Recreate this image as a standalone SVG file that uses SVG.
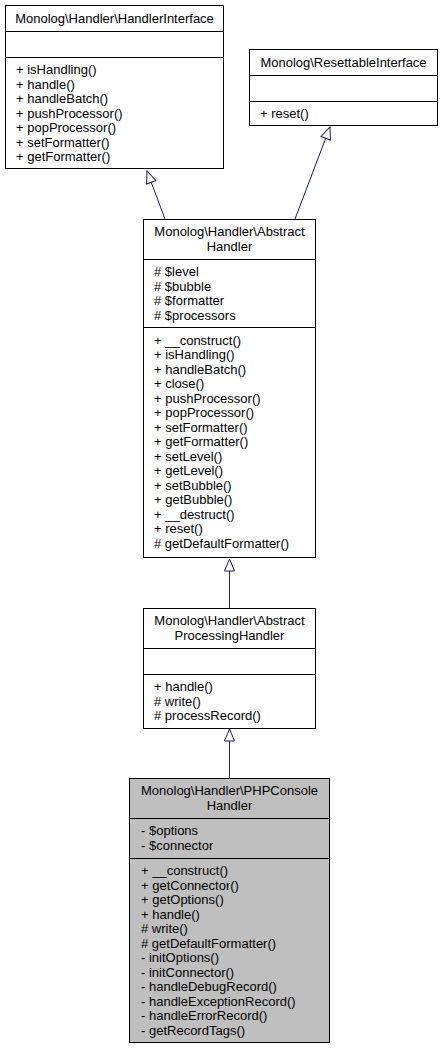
<svg xmlns="http://www.w3.org/2000/svg" width="445" height="1051" viewBox="0 0 445 1051">
<style>
text{font-family:"Liberation Sans",Arial,Helvetica,sans-serif;font-size:13px;fill:#000}
.t{text-anchor:middle}
.box{fill:#fff;stroke:#000;stroke-width:1}
.sel{fill:#bfbfbf;stroke:#000;stroke-width:1}
.sep{stroke:#000;stroke-width:1}
.edge{stroke:#191970;stroke-width:1;fill:none;marker-end:url(#inh)}
</style>
<defs>
<marker id="inh" markerUnits="userSpaceOnUse" viewBox="-1 -1 14 12" markerWidth="14" markerHeight="12" refX="12" refY="5" orient="auto">
<path d="M12,5 L0,0 L0,10 Z" fill="#fff" stroke="#191970" stroke-width="1"/>
</marker>
</defs>
<rect width="445" height="1051" fill="#fff"/>
<g id="connectors">
<line class="edge" x1="165" y1="219" x2="147" y2="171"/>
<line class="edge" x1="295" y1="219" x2="330" y2="127"/>
<line class="edge" x1="229.5" y1="608" x2="229.5" y2="559"/>
<line class="edge" x1="229.5" y1="778" x2="229.5" y2="729"/>
</g>
<g id="HandlerInterface">
<rect class="box" x="5.5" y="5.5" width="218" height="163"/>
<line class="sep" x1="5.5" y1="31.5" x2="223.5" y2="31.5"/>
<line class="sep" x1="5.5" y1="57.5" x2="223.5" y2="57.5"/>
<text class="t" x="114.5" y="22.5">Monolog\Handler\HandlerInterface</text>
<text x="16" y="74">+ isHandling()</text>
<text x="16" y="88.5">+ handle()</text>
<text x="16" y="103">+ handleBatch()</text>
<text x="16" y="117.5">+ pushProcessor()</text>
<text x="16" y="132">+ popProcessor()</text>
<text x="16" y="146.5">+ setFormatter()</text>
<text x="16" y="161">+ getFormatter()</text>
</g>
<g id="ResettableInterface">
<rect class="box" x="249.5" y="49.5" width="188" height="76"/>
<line class="sep" x1="249.5" y1="75.5" x2="437.5" y2="75.5"/>
<line class="sep" x1="249.5" y1="101.5" x2="437.5" y2="101.5"/>
<text class="t" x="343.5" y="66.5">Monolog\ResettableInterface</text>
<text x="260" y="118">+ reset()</text>
</g>
<g id="AbstractHandler">
<rect class="box" x="143.5" y="219.5" width="172" height="338"/>
<line class="sep" x1="143.5" y1="259.5" x2="315.5" y2="259.5"/>
<line class="sep" x1="143.5" y1="327.5" x2="315.5" y2="327.5"/>
<text class="t" x="229.5" y="236">Monolog\Handler\Abstract</text>
<text class="t" x="229.5" y="250.5">Handler</text>
<text x="154" y="276"># $level</text>
<text x="154" y="290.5"># $bubble</text>
<text x="154" y="305"># $formatter</text>
<text x="154" y="319.5"># $processors</text>
<text x="154" y="344.5">+ __construct()</text>
<text x="154" y="359">+ isHandling()</text>
<text x="154" y="373.5">+ handleBatch()</text>
<text x="154" y="388">+ close()</text>
<text x="154" y="402.5">+ pushProcessor()</text>
<text x="154" y="417">+ popProcessor()</text>
<text x="154" y="431.5">+ setFormatter()</text>
<text x="154" y="446">+ getFormatter()</text>
<text x="154" y="460.5">+ setLevel()</text>
<text x="154" y="475">+ getLevel()</text>
<text x="154" y="489.5">+ setBubble()</text>
<text x="154" y="504">+ getBubble()</text>
<text x="154" y="518.5">+ __destruct()</text>
<text x="154" y="533">+ reset()</text>
<text x="154" y="547.5"># getDefaultFormatter()</text>
</g>
<g id="AbstractProcessingHandler">
<rect class="box" x="143.5" y="608.5" width="172" height="120"/>
<line class="sep" x1="143.5" y1="648.5" x2="315.5" y2="648.5"/>
<line class="sep" x1="143.5" y1="674.5" x2="315.5" y2="674.5"/>
<text class="t" x="229.5" y="625">Monolog\Handler\Abstract</text>
<text class="t" x="229.5" y="639.5">ProcessingHandler</text>
<text x="154" y="691">+ handle()</text>
<text x="154" y="705.5"># write()</text>
<text x="154" y="720"># processRecord()</text>
</g>
<g id="PHPConsoleHandler">
<rect class="sel" x="129.5" y="778.5" width="200" height="264"/>
<line class="sep" x1="129.5" y1="818.5" x2="329.5" y2="818.5"/>
<line class="sep" x1="129.5" y1="858.5" x2="329.5" y2="858.5"/>
<text class="t" x="229.5" y="795">Monolog\Handler\PHPConsole</text>
<text class="t" x="229.5" y="809.5">Handler</text>
<text x="141" y="835">- $options</text>
<text x="141" y="849.5">- $connector</text>
<text x="141" y="875">+ __construct()</text>
<text x="141" y="889.5">+ getConnector()</text>
<text x="141" y="904">+ getOptions()</text>
<text x="141" y="918.5">+ handle()</text>
<text x="141" y="933"># write()</text>
<text x="141" y="947.5"># getDefaultFormatter()</text>
<text x="141" y="962">- initOptions()</text>
<text x="141" y="976.5">- initConnector()</text>
<text x="141" y="991">- handleDebugRecord()</text>
<text x="141" y="1005.5">- handleExceptionRecord()</text>
<text x="141" y="1020">- handleErrorRecord()</text>
<text x="141" y="1034.5">- getRecordTags()</text>
</g>
</svg>
